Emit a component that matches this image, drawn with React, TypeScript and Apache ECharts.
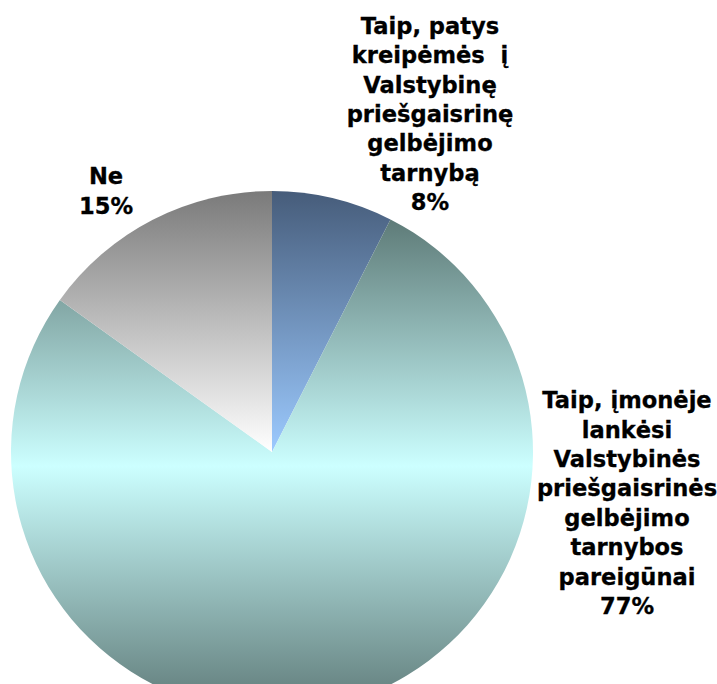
import React, { useEffect, useRef } from "react";
import * as echarts from "echarts";

const categories = [
  "Taip, patys\nkreipėmės  į\nValstybinę\npriešgaisrinę\ngelbėjimo\ntarnybą",
  "Taip, įmonėje\nlankėsi\nValstybinės\npriešgaisrinės\ngelbėjimo\ntarnybos\npareigūnai",
  "Ne",
];
const values = [7.5, 77.4, 15.1];

const labelPos: [number, number][] = [
  [430, 114],
  [627, 503],
  [106, 191],
];

export default function App() {
  const ref = useRef<HTMLDivElement>(null);
  useEffect(() => {
    if (!ref.current) return;
    const chart = echarts.init(ref.current, null, { renderer: "svg" });
    const colors = [
      new echarts.graphic.LinearGradient(0, 0, 0, 1, [
        { offset: 0, color: "#465c7a" },
        { offset: 1, color: "#9ccaff" },
      ]),
      new echarts.graphic.LinearGradient(0, 0, 0, 1, [
        { offset: 0, color: "#5e7b78" },
        { offset: 0.5, color: "#ccffff" },
        { offset: 1, color: "#5e7977" },
      ]),
      new echarts.graphic.LinearGradient(0, 0, 0, 1, [
        { offset: 0, color: "#7a7a7a" },
        { offset: 1, color: "#ffffff" },
      ]),
    ];
    chart.setOption({
      animation: false,
      backgroundColor: "#ffffff",
      series: [
        {
          type: "pie",
          center: [272, 452],
          radius: 261,
          startAngle: 90,
          clockwise: true,
          percentPrecision: 0,
          data: categories.map((name, i) => ({
            name,
            value: values[i],
            itemStyle: { color: colors[i] },
          })),
          itemStyle: { borderWidth: 0 },
          label: {
            show: true,
            position: "outside",
            formatter: "{b}\n{d}%",
            fontFamily: "DejaVu Sans",
            fontWeight: "bold",
            fontSize: 22.6,
            lineHeight: 29.4,
            color: "#000000",
            textBorderColor: "#000000",
            textBorderWidth: 0.3,
            align: "center",
          },
          labelLine: { show: false },
          labelLayout: (params: any) => {
            const p = labelPos[params.dataIndex];
            return { x: p[0], y: p[1], align: "center", verticalAlign: "middle" };
          },
        },
      ],
    });
    return () => chart.dispose();
  }, []);
  return (
    <div
      ref={ref}
      style={{ position: "absolute", left: 0, top: 0, width: 717, height: 684 }}
    />
  );
}
